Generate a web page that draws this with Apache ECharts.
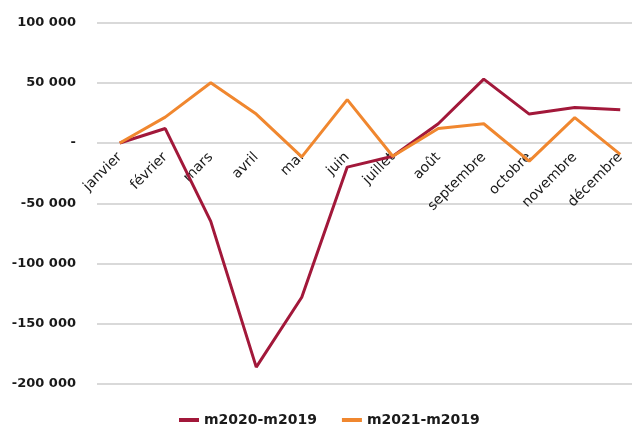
<!DOCTYPE html>
<html>
<head>
<meta charset="utf-8">
<script src="https://cdn.jsdelivr.net/npm/echarts@6/dist/echarts.min.js"></script>
<style>
  html, body { margin: 0; padding: 0; background: #ffffff; }
  #chart { width: 632px; height: 425px; }
</style>
</head>
<body>
<div id="chart"></div>
<script>
// Monthly differences versus 2019
const months = ['janvier', 'février', 'mars', 'avril', 'mai', 'juin', 'juillet', 'août', 'septembre', 'octobre', 'novembre', 'décembre'];
const m2020 = [0, 12000, -65000, -186000, -128000, -20000, -11000, 16000, 53000, 24000, 29500, 27500];
const m2021 = [0, 21500, 50000, 24000, -11500, 36000, -11000, 12000, 16000, -15000, 21000, -9500];
const seriesNames = ['m2020-m2019', 'm2021-m2019'];
const colors = ['#A2183A', '#F0872F'];

const yMin = -200000, yMax = 100000;
const gridTop = 22.5, gridBottom = 41, chartH = 425;

function fmt(v) {
  if (v === 0) return '-';
  const s = Math.abs(v).toString().replace(/\B(?=(\d{3})+(?!\d))/g, ' ');
  return (v < 0 ? '-' : '') + s;
}

// the category axis sits on the zero line
const plotH = chartH - gridTop - gridBottom;
const zeroOffset = -plotH * (0 - yMin) / (yMax - yMin);

const chart = echarts.init(document.getElementById('chart'), null, { renderer: 'canvas' });
chart.setOption({
  animation: false,
  color: colors,
  grid: { left: 97, right: -11, top: gridTop, bottom: gridBottom, containLabel: false, outerBoundsMode: 'none' },
  legend: {
    data: seriesNames,
    left: 179,
    top: 413,
    padding: 0,
    itemWidth: 20,
    itemHeight: 4,
    itemGap: 25,
    icon: 'rect',
    textStyle: { fontFamily: 'DejaVu Sans', fontWeight: 'bold', fontSize: 14, color: '#1a1a1a' }
  },
  xAxis: {
    type: 'category',
    data: months,
    boundaryGap: true,
    position: 'bottom',
    offset: zeroOffset,
    z: 1,
    axisLine: { show: false, onZero: false },
    axisTick: { show: false },
    axisLabel: {
      rotate: 45,
      interval: 0,
      margin: 12,
      fontFamily: 'DejaVu Sans',
      fontSize: 14,
      color: '#1a1a1a'
    }
  },
  yAxis: {
    type: 'value',
    min: yMin,
    max: yMax,
    interval: 50000,
    axisLine: { show: false },
    axisTick: { show: false },
    splitLine: { lineStyle: { color: '#d9d9d9', width: 2 } },
    axisLabel: {
      margin: 21,
      formatter: fmt,
      fontFamily: 'DejaVu Sans',
      fontWeight: 'bold',
      fontSize: 13,
      color: '#1a1a1a'
    }
  },
  series: [
    {
      name: seriesNames[0],
      type: 'line',
      data: m2020,
      symbol: 'none',
      lineStyle: { width: 3, color: colors[0] },
      z: 3
    },
    {
      name: seriesNames[1],
      type: 'line',
      data: m2021,
      symbol: 'none',
      lineStyle: { width: 3, color: colors[1] },
      z: 4
    }
  ]
});
</script>
</body>
</html>
